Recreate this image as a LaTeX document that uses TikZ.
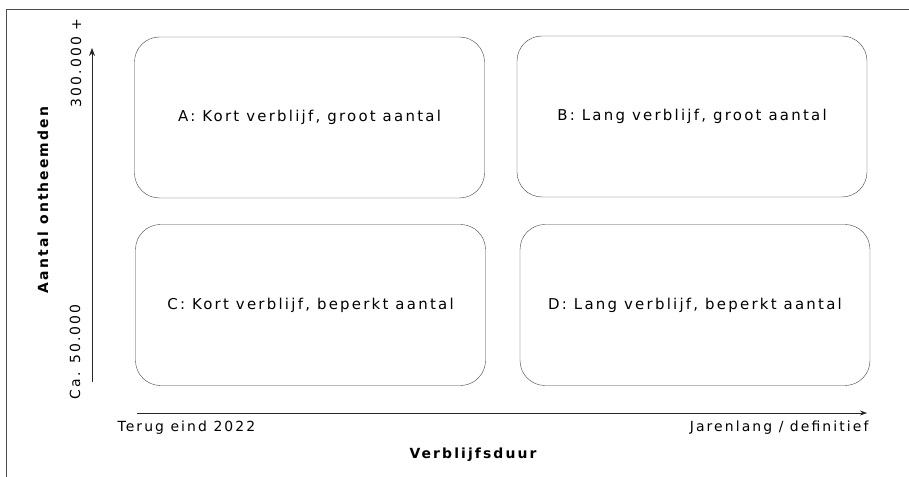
\documentclass[tikz,border=0pt]{standalone}
\usepackage{fontspec}
\setmainfont{DejaVu Sans}[LetterSpace=15]
\usetikzlibrary{positioning}
\usetikzlibrary{arrows.meta}
\tikzset{
    quad/.style = {rectangle, rounded corners=25bp, draw=black!75, thin, minimum width=350bp, minimum height=161bp, font=\fontsize{15}{17}\selectfont},
    yaxis/.style = {-{Stealth[length=8bp,width=6bp]}, thick, black!85},
    xaxis/.style = {-{Stealth[length=7bp,width=5bp]}, semithick, black!85},
    ticklbl/.style = {rotate=90, font=\fontsize{14}{16}\selectfont},
    endlbl/.style = {font=\fontsize{14}{16}\selectfont},
    axistitle/.style = {font=\bfseries\fontsize{14}{16}\selectfont},
    framel/.style = {draw=black!70, thin}
}

\begin{document}
\begin{tikzpicture}[x=1bp,y=-1bp]
\useasboundingbox (0,0) rectangle (909,477);
%
\draw[framel] (6,477) -- (6,9) -- (909,9);
%
\node[quad] at (309.5,117.5) (a) {A: Kort verblijf, groot aantal};
\node[quad] at (692,116.5) (b) {B: Lang verblijf, groot aantal};
\node[quad] at (310.5,305) (c) {C: Kort verblijf, beperkt aantal};
\node[quad] at (695,305) (d) {D: Lang verblijf, beperkt aantal};
%
\coordinate (ybot) at (92,382);
\coordinate (ytop) at (92,48);
\coordinate (xleft) at (137,413);
\coordinate (xright) at (867,413);
\draw[yaxis] (ybot) -- (ytop);
\draw[xaxis] (xleft) -- (xright);
%
\node[ticklbl] at (76,63) (ymax) {300.000 +};
\node[ticklbl] at (75,352) (ymin) {Ca. 50.000};
\node[axistitle, rotate=90] at (43,200) (ytitle) {Aantal ontheemden};
\node[endlbl, anchor=west] at (114,428) (xmin) {Terug eind 2022};
\node[endlbl, anchor=east] at (872,428) (xmax) {Jarenlang / definitief};
\node[axistitle] at (473,455) (xtitle) {Verblijfsduur};

\end{tikzpicture}
\end{document}
